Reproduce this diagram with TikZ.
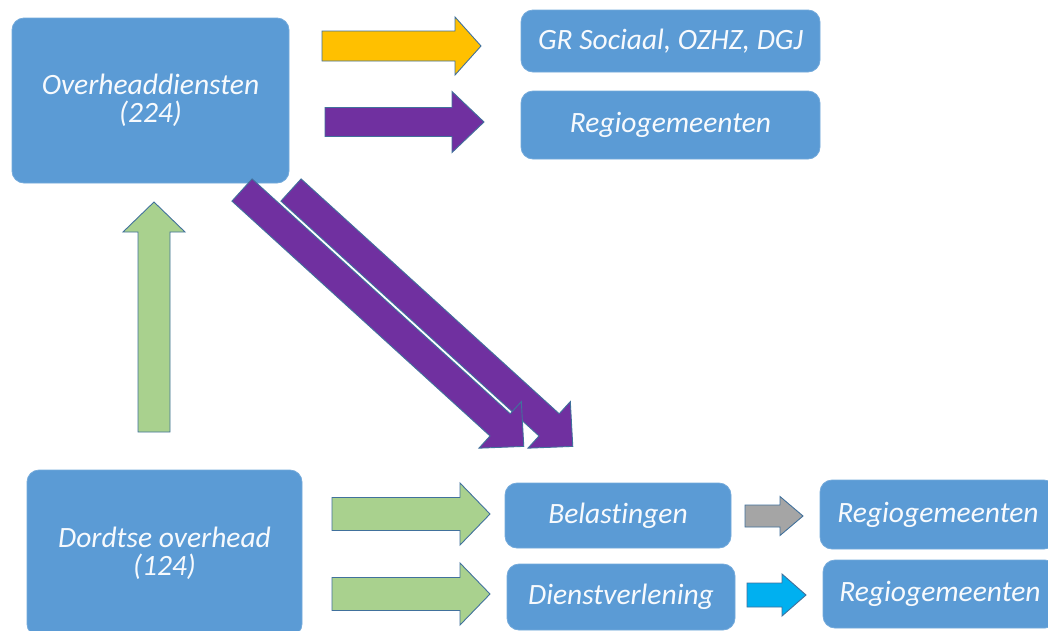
\documentclass[tikz,border=0pt]{standalone}
\usepackage{fontspec}
\setmainfont{Carlito}[RawFeature=-liga]
\begin{document}
\begin{tikzpicture}[x=1pt,y=-1pt]
\definecolor{boxblue}{HTML}{5B9BD5}
\definecolor{edgeblue}{HTML}{41719C}
\definecolor{ayellow}{HTML}{FFC000}
\definecolor{apurple}{HTML}{7030A0}
\definecolor{agreen}{HTML}{A9D18E}
\definecolor{agray}{HTML}{A5A5A5}
\definecolor{acyan}{HTML}{00B0F0}
\tikzset{
  box/.style={fill=boxblue, draw=boxblue!85!white, line width=0.8pt, rounded corners=12pt,
    text=white!95!boxblue, font=\fontsize{29.5}{28}\selectfont\itshape, align=center, inner sep=0pt},
  arrowstyle/.style={draw=edgeblue, line width=0.9pt, line join=miter},
  pics/barrow/.style args={#1/#2/#3/#4}{code={
    \draw[pic actions] (0,-#2/2) -- (#1-#4,-#2/2) -- (#1-#4,-#3/2) -- (#1,0)
      -- (#1-#4,#3/2) -- (#1-#4,#2/2) -- (0,#2/2) -- cycle;}}
}
\useasboundingbox (0,0) rectangle (1048,630);
\clip (0,0) rectangle (1048,630);
\fill[white] (0,0) rectangle (1048,630);

% boxes
\node[box, minimum width=277pt, minimum height=165pt] (ovh) at (150.5,100.5) {Overheaddiensten\\(224)};
\node[box, minimum width=299pt, minimum height=62pt] (gr) at (670.5,41) {GR Sociaal, OZHZ, DGJ};
\node[box, minimum width=299pt, minimum height=68pt] (reg1) at (670.5,125) {Regiogemeenten};
\node[box, minimum width=275pt, minimum height=166pt] (dord) at (164.5,553) {Dordtse overhead\\(124)};
\node[box, minimum width=226pt, minimum height=65pt] (bel) at (618,515.5) {Belastingen};
\node[box, minimum width=228pt, minimum height=66pt] (dien) at (621,597) {Dienstverlening};
\node[box, minimum width=236pt, minimum height=69pt] (reg2) at (938,514.5) {Regiogemeenten};
\node[box, minimum width=234pt, minimum height=68pt] (reg3) at (940,594) {Regiogemeenten};

% arrow anchor points
\coordinate (tYel) at (322,46);
\coordinate (tPur) at (325,122);
\coordinate (tUp) at (154,432);
\coordinate (tG1) at (332,514);
\coordinate (tG2) at (332,594);
\coordinate (tGray) at (745,516);
\coordinate (tCyan) at (747,595);
\coordinate (tD1) at (242,190);
\coordinate (tD2) at (291,190);

% block arrows
\pic[arrowstyle, fill=ayellow] at (tYel) {barrow={159/30/58/26}};
\pic[arrowstyle, fill=apurple] at (tPur) {barrow={159/29/61/32}};
\pic[arrowstyle, fill=agreen, rotate=90] at (tUp) {barrow={230/32/62/30}};
\pic[arrowstyle, fill=agreen] at (tG1) {barrow={158/33/62/30}};
\pic[arrowstyle, fill=agreen] at (tG2) {barrow={158/33/62/30}};
\pic[arrowstyle, fill=agray] at (tGray) {barrow={58/22/39/23}};
\pic[arrowstyle, fill=acyan] at (tCyan) {barrow={59/24/42/24}};
\pic[arrowstyle, fill=apurple, rotate=-42.3] at (tD2) {barrow={381/30/63/32}};
\pic[arrowstyle, fill=apurple, rotate=-42.3] at (tD1) {barrow={381/30/63/32}};
\end{tikzpicture}
\end{document}
